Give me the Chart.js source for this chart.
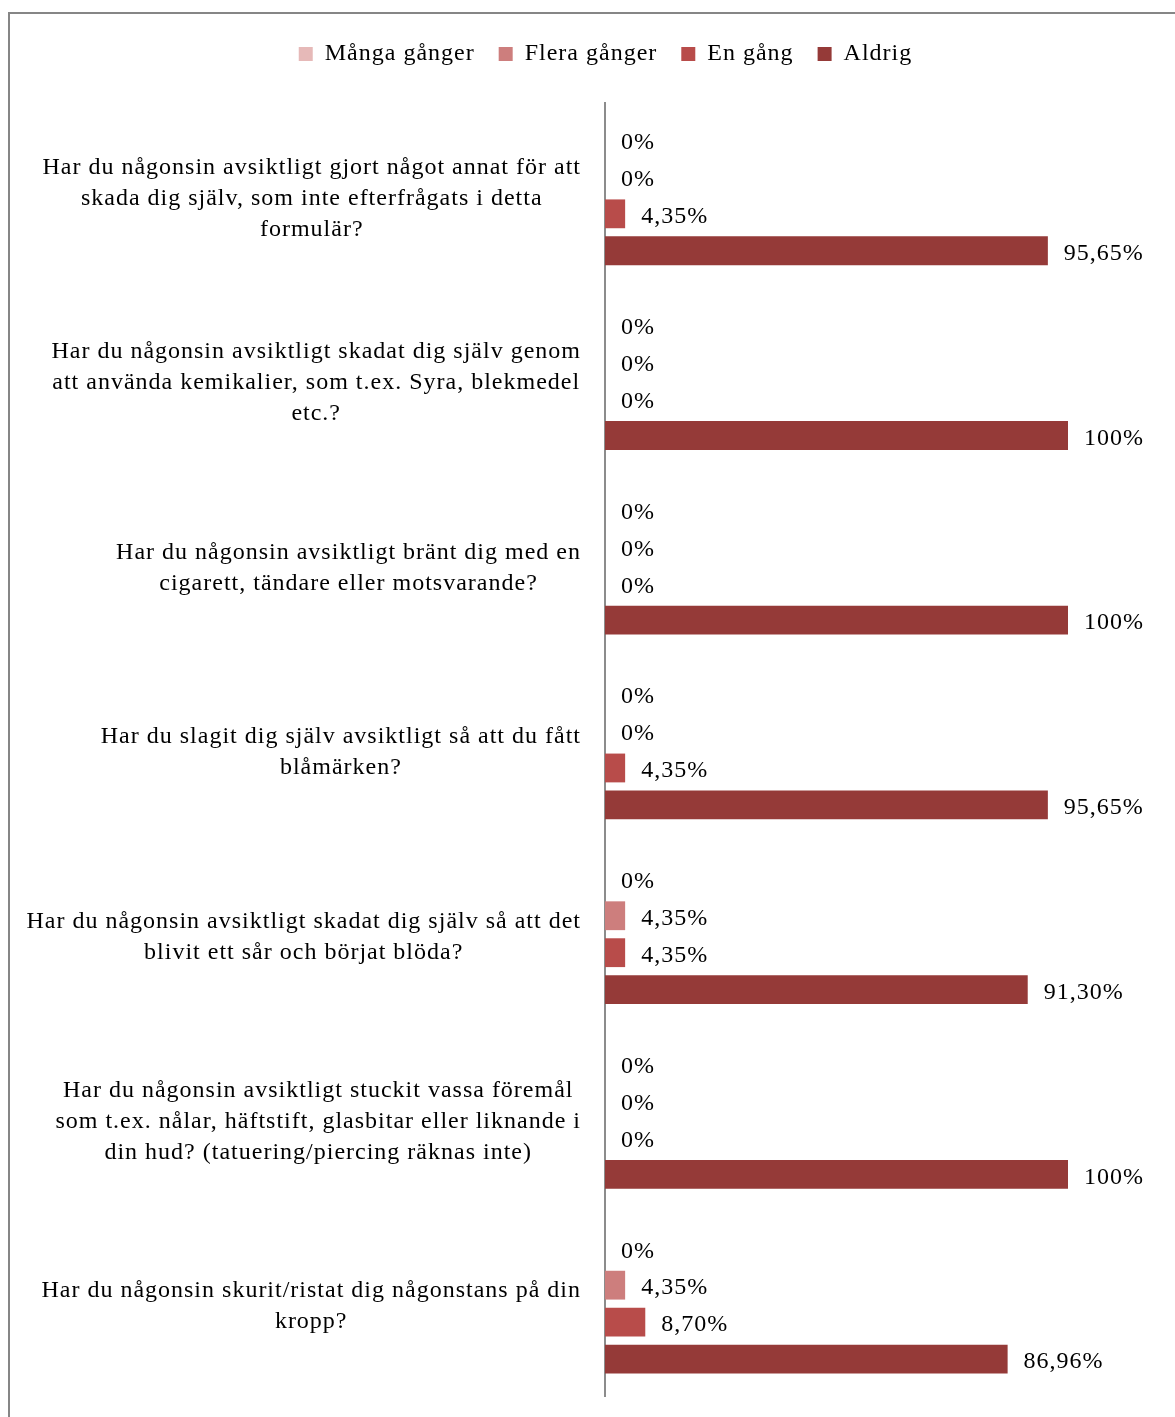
<!DOCTYPE html>
<html lang="sv">
<head>
<meta charset="UTF-8">
<title>Självskada</title>
<script src="https://cdn.jsdelivr.net/npm/chart.js"></script>
<style>
  body { margin: 0; background: #fff; }
  #frame { position: absolute; left: 8px; top: 12px; width: 1300px; height: 1500px; border: 2px solid #868686; }
  #wrap { position: absolute; left: 0; top: 0; width: 1175px; height: 1417px; }
</style>
</head>
<body>
<div id="frame"></div>
<div id="wrap"><canvas id="chart" width="1175" height="1417"></canvas></div>
<script>
// categories (wrapped the same way as the original)
const questions = [
    ["Har du någonsin avsiktligt gjort något annat för att", "skada dig själv, som inte efterfrågats i detta", "formulär?"],
    ["Har du någonsin avsiktligt skadat dig själv genom", "att använda kemikalier, som t.ex. Syra, blekmedel", "etc.?"],
    ["Har du någonsin avsiktligt bränt dig med en", "cigarett, tändare eller motsvarande?"],
    ["Har du slagit dig själv avsiktligt så att du fått", "blåmärken?"],
    ["Har du någonsin avsiktligt skadat dig själv så att det", "blivit ett sår och börjat blöda?"],
    ["Har du någonsin avsiktligt stuckit vassa föremål", "som t.ex. nålar, häftstift, glasbitar eller liknande i", "din hud? (tatuering/piercing räknas inte)"],
    ["Har du någonsin skurit/ristat dig någonstans på din", "kropp?"]
];
const seriesNames = ["Många gånger", "Flera gånger", "En gång", "Aldrig"];
const mangaGanger = [0, 0, 0, 0, 0, 0, 0];
const fleraGanger = [0, 0, 0, 0, 4.35, 0, 4.35];
const enGang = [4.35, 0, 0, 4.35, 4.35, 0, 8.70];
const aldrig = [95.65, 100, 100, 95.65, 91.30, 100, 86.96];
const colors = ["#E6B9B8", "#CD7E7D", "#B84C4A", "#953A38"];

const serif = "'Liberation Serif', 'Times New Roman', serif";
const FS = 24;
const SPACING = "1px";

function fmt(v) {
    if (Number.isInteger(v)) return v + "%";
    return v.toFixed(2).replace(".", ",") + "%";
}

// the original text is set a bit wider than the canvas default
const wideText = {
    id: "wideText",
    beforeLayout(chart) { chart.ctx.letterSpacing = SPACING; },
    beforeDraw(chart) { chart.ctx.letterSpacing = SPACING; }
};

// question text: block right aligned to the axis, lines centered in the block
const questionLabels = {
    id: "questionLabels",
    afterDraw(chart) {
        const ctx = chart.ctx;
        const y = chart.scales.y;
        ctx.save();
        ctx.letterSpacing = SPACING;
        ctx.font = FS + "px " + serif;
        ctx.fillStyle = "#000";
        ctx.textAlign = "center";
        ctx.textBaseline = "middle";
        questions.forEach((lines, i) => {
            const cy = y.getPixelForTick(i) + 3;
            let w = 0;
            lines.forEach(l => { w = Math.max(w, ctx.measureText(l).width); });
            const cx = 581 - w / 2;
            lines.forEach((l, j) => {
                ctx.fillText(l, cx, cy + (j - (lines.length - 1) / 2) * 31);
            });
        });
        ctx.restore();
    }
};

// value labels after each bar
const valueLabels = {
    id: "valueLabels",
    afterDatasetsDraw(chart) {
        const ctx = chart.ctx;
        ctx.save();
        ctx.letterSpacing = SPACING;
        ctx.font = FS + "px " + serif;
        ctx.fillStyle = "#000";
        ctx.textAlign = "left";
        ctx.textBaseline = "middle";
        chart.data.datasets.forEach((ds, di) => {
            chart.getDatasetMeta(di).data.forEach((bar, i) => {
                ctx.fillText(fmt(ds.data[i]), bar.x + 16, bar.y + 3);
            });
        });
        ctx.restore();
    }
};

new Chart(document.getElementById("chart"), {
    type: "bar",
    data: {
        labels: questions.map(q => q.join(" ")),
        datasets: [
            { label: seriesNames[0], data: mangaGanger, backgroundColor: colors[0] },
            { label: seriesNames[1], data: fleraGanger, backgroundColor: colors[1] },
            { label: seriesNames[2], data: enGang, backgroundColor: colors[2] },
            { label: seriesNames[3], data: aldrig, backgroundColor: colors[3] }
        ]
    },
    options: {
        indexAxis: "y",
        responsive: false,
        animation: false,
        datasets: { bar: { categoryPercentage: 0.8, barPercentage: 0.78 } },
        layout: { padding: { left: 143, right: 107, top: 18, bottom: 21 } },
        scales: {
            x: {
                position: "top",
                min: 0, max: 100,
                ticks: { display: false },
                grid: { display: false },
                border: { display: false },
                afterFit(s) { s.height = 27; }
            },
            y: {
                ticks: { display: false },
                grid: { display: false, drawTicks: false },
                border: { display: true, color: "#8C8C8C", width: 2 },
                afterFit(s) { s.width = 462; }
            }
        },
        plugins: {
            legend: {
                position: "top",
                labels: {
                    boxWidth: 14, boxHeight: 14, padding: 24,
                    color: "#000",
                    font: { family: serif, size: FS }
                }
            },
            tooltip: { enabled: false }
        }
    },
    plugins: [wideText, questionLabels, valueLabels]
});
</script>
</body>
</html>
